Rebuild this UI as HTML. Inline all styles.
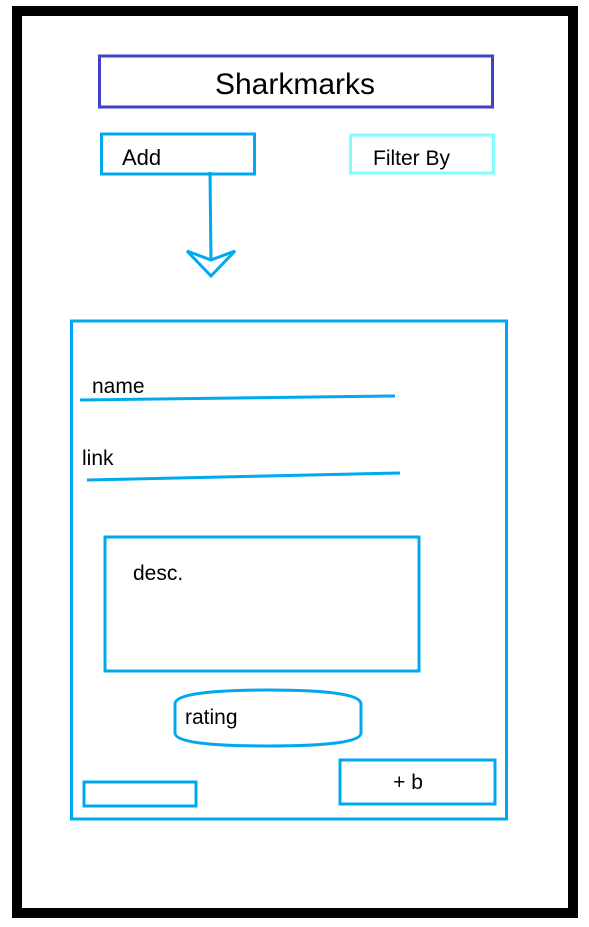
<!DOCTYPE html>
<html><head><meta charset="utf-8"><style>
html,body{margin:0;padding:0;background:#fff;}
svg{display:block;}
text{font-family:"Liberation Sans",sans-serif;fill:#000;}
</style></head><body>
<svg width="589" height="927" viewBox="0 0 589 927">
<rect x="17" y="11" width="556" height="902" fill="#fff" stroke="#000" stroke-width="10"/>
<g>
<rect x="99.5" y="56" width="393" height="51" fill="none" stroke="#4141c8" stroke-width="3"/>
<text x="295" y="94" font-size="30" text-anchor="middle">Sharkmarks</text>
</g>
<g>
<rect x="101.5" y="134" width="153" height="40" fill="none" stroke="#00a8f0" stroke-width="3"/>
<text x="122" y="165" font-size="22">Add</text>
</g>
<g>
<rect x="350.5" y="135" width="143" height="38" fill="none" stroke="#80ffff" stroke-width="3"/>
<text x="373" y="165" font-size="21">Filter By</text>
</g>
<g stroke="#00a8f0" stroke-width="3" fill="none">
<line x1="210" y1="172" x2="211" y2="260"/>
<polygon points="187,251 211,260 235,251 211,276" stroke-linejoin="miter"/>
</g>
<rect x="71.5" y="321" width="435" height="498" fill="none" stroke="#00a8f0" stroke-width="3"/>
<text x="92" y="393" font-size="21">name</text>
<line x1="80" y1="400" x2="395" y2="396" stroke="#00a8f0" stroke-width="3"/>
<text x="82" y="465" font-size="21">link</text>
<line x1="87" y1="480" x2="400" y2="473" stroke="#00a8f0" stroke-width="3"/>
<g>
<rect x="105" y="537" width="314" height="134" fill="none" stroke="#00a8f0" stroke-width="3"/>
<text x="133" y="580" font-size="21">desc.</text>
</g>
<g>
<path d="M175,704 Q175,690 268,690 Q361,690 361,704 L361,733 Q361,746 268,746 Q175,746 175,733 Z" fill="none" stroke="#00a8f0" stroke-width="3"/>
<text x="185" y="724" font-size="21">rating</text>
</g>
<rect x="84" y="782" width="112" height="24" fill="none" stroke="#00a8f0" stroke-width="3"/>
<g>
<rect x="340" y="760" width="155" height="44" fill="none" stroke="#00a8f0" stroke-width="3"/>
<text x="408" y="789" font-size="21" text-anchor="middle">+ b</text>
</g>
</svg>
</body></html>
